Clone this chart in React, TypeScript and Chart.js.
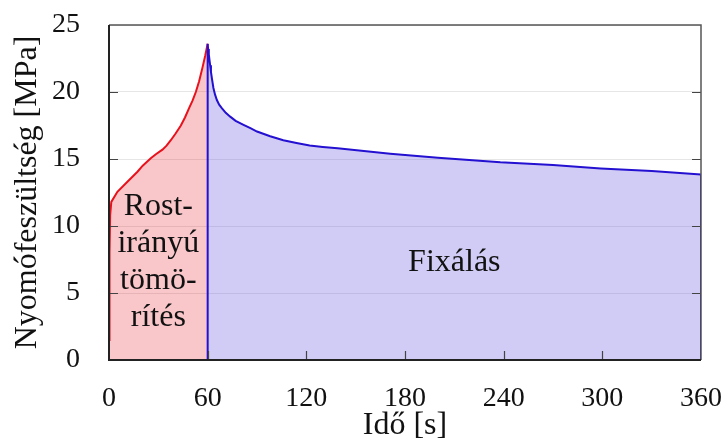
import { useEffect, useRef } from "react";
import { Chart, registerables } from "chart.js";

Chart.register(...registerables);

// Compression phase (fibre-direction densification), 0–60 s
const compressionTime = [0, 0.3, 0.7, 1.4, 5.1, 11.2, 17.3, 20.5, 25.4, 28.5, 32.5, 35, 37.6, 40.5, 43.7, 46.2, 48.7, 50.8, 52.8, 54.8, 56.8, 58.5, 60];
const compressionStress = [1.5, 8, 10.8, 11.8, 12.55, 13.3, 14.05, 14.5, 15.05, 15.35, 15.7, 16.0, 16.4, 16.9, 17.5, 18.1, 18.8, 19.35, 20.0, 20.8, 21.8, 22.7, 23.6];

// Fixing phase (stress relaxation), 60–360 s
const fixingTime = [60, 60, 60.3, 60.7, 61.1, 61.5, 62, 62.6, 63.5, 64.5, 65.6, 67, 68.6, 71, 73.7, 77, 81.8, 86, 90, 98, 106, 114, 122, 130, 139, 155, 171, 200, 238, 270, 299, 330, 360, 360];
const fixingStress = [0, 23.6, 23.2, 22.8, 22.4, 22.0, 21.5, 21.0, 20.3, 19.8, 19.4, 19.05, 18.8, 18.45, 18.16, 17.85, 17.55, 17.3, 17.05, 16.7, 16.4, 16.2, 16.0, 15.9, 15.8, 15.6, 15.4, 15.1, 14.75, 14.55, 14.3, 14.1, 13.85, 0];

// Axis ticks
const timeTicks = [0, 60, 120, 180, 240, 300, 360];
const stressTicks = [0, 5, 10, 15, 20, 25];

// Phase labels: text lines, anchor time and baseline stress
const compressionLabelLines = ["Rost-", "irányú", "tömö-", "rítés"];
const compressionLabelTime = 30;
const compressionLabelBaselines = [10.8, 8.05, 5.3, 2.55];
const fixingLabel = "Fixálás";
const fixingLabelTime = 210;
const fixingLabelBaseline = 6.64;

const SERIF = "'Liberation Serif', 'Times New Roman', serif";

const framePlugin = {
  id: "frameAndLabels",
  afterDatasetsDraw(chart: any) {
    const { ctx, chartArea } = chart;
    const { left, right, top, bottom } = chartArea;
    const xs = chart.scales.x;
    const ys = chart.scales.y;
    ctx.save();

    // phase labels
    ctx.fillStyle = "#111";
    ctx.font = `32px ${SERIF}`;
    ctx.textAlign = "center";
    ctx.textBaseline = "alphabetic";
    const cx = xs.getPixelForValue(compressionLabelTime);
    compressionLabelLines.forEach((line, i) => {
      ctx.fillText(line, cx, ys.getPixelForValue(compressionLabelBaselines[i]));
    });
    ctx.fillText(fixingLabel, xs.getPixelForValue(fixingLabelTime), ys.getPixelForValue(fixingLabelBaseline));

    // inward tick marks
    const tl = 9;
    ctx.strokeStyle = "#444";
    ctx.lineWidth = 1.2;
    ctx.beginPath();
    stressTicks.slice(1, -1).forEach((v) => {
      const y = Math.round(ys.getPixelForValue(v)) + 0.5;
      ctx.moveTo(left, y);
      ctx.lineTo(left + tl, y);
      ctx.moveTo(right, y);
      ctx.lineTo(right - tl, y);
    });
    timeTicks.slice(1, -1).forEach((v) => {
      const x = Math.round(xs.getPixelForValue(v)) + 0.5;
      ctx.moveTo(x, bottom);
      ctx.lineTo(x, bottom - tl);
    });
    ctx.stroke();

    // frame
    ctx.lineWidth = 1.5;
    ctx.strokeStyle = "#555";
    ctx.beginPath();
    ctx.moveTo(left, top);
    ctx.lineTo(right, top);
    ctx.lineTo(right, bottom);
    ctx.stroke();
    ctx.strokeStyle = "#222";
    ctx.lineWidth = 2;
    ctx.beginPath();
    ctx.moveTo(left, top);
    ctx.lineTo(left, bottom);
    ctx.lineTo(right, bottom);
    ctx.stroke();
    ctx.restore();
  },
};

export default function App() {
  const ref = useRef<HTMLCanvasElement>(null);

  useEffect(() => {
    document.body.style.margin = "0";
    const compression = compressionTime.map((t, i) => ({ x: t, y: compressionStress[i] }));
    const fixing = fixingTime.map((t, i) => ({ x: t, y: fixingStress[i] }));

    const chart = new Chart(ref.current as HTMLCanvasElement, {
      type: "line",
      data: {
        datasets: [
          {
            data: fixing,
            borderColor: "#2410d0",
            backgroundColor: "rgba(110,95,225,0.32)",
            borderWidth: 2,
            pointRadius: 0,
            tension: 0,
            fill: "origin",
          },
          {
            data: compression,
            borderColor: "#e8121c",
            backgroundColor: "rgba(232,40,50,0.26)",
            borderWidth: 2,
            pointRadius: 0,
            tension: 0,
            fill: "origin",
          },
        ],
      },
      options: {
        animation: false,
        responsive: false,
        events: [],
        layout: { padding: { left: 0, right: 26, top: 25, bottom: 0 } },
        plugins: { legend: { display: false }, tooltip: { enabled: false } },
        scales: {
          x: {
            type: "linear",
            min: 0,
            max: 360,
            afterBuildTicks: (s: any) => {
              s.ticks = timeTicks.map((v) => ({ value: v }));
            },
            afterFit: (s: any) => {
              s.height = 85;
              s.paddingLeft = 0;
              s.paddingRight = 0;
            },
            ticks: {
              font: { family: SERIF, size: 28 },
              color: "#111",
              padding: 22,
              maxRotation: 0,
              autoSkip: false,
            },
            grid: { drawOnChartArea: false, drawTicks: false },
            border: { display: false },
            title: {
              display: true,
              text: "Idő [s]",
              font: { family: SERIF, size: 32 },
              color: "#111",
              padding: { top: 0, bottom: 0 },
            },
          },
          y: {
            min: 0,
            max: 25,
            afterBuildTicks: (s: any) => {
              s.ticks = stressTicks.map((v) => ({ value: v }));
            },
            afterFit: (s: any) => {
              s.width = 109;
              s.paddingTop = 0;
              s.paddingBottom = 0;
            },
            ticks: {
              font: { family: SERIF, size: 28 },
              color: "#111",
              padding: 29,
            },
            grid: { color: "#e6e6e6", lineWidth: 1, drawTicks: false },
            border: { display: false },
            title: {
              display: true,
              text: "Nyomófeszültség [MPa]",
              font: { family: SERIF, size: 32 },
              color: "#111",
              padding: { top: 8, bottom: 0 },
            },
          },
        },
      },
      plugins: [framePlugin],
    });
    return () => chart.destroy();
  }, []);

  return (
    <div style={{ width: 727, height: 445 }}>
      <canvas ref={ref} width={727} height={445} style={{ display: "block" }} />
    </div>
  );
}
